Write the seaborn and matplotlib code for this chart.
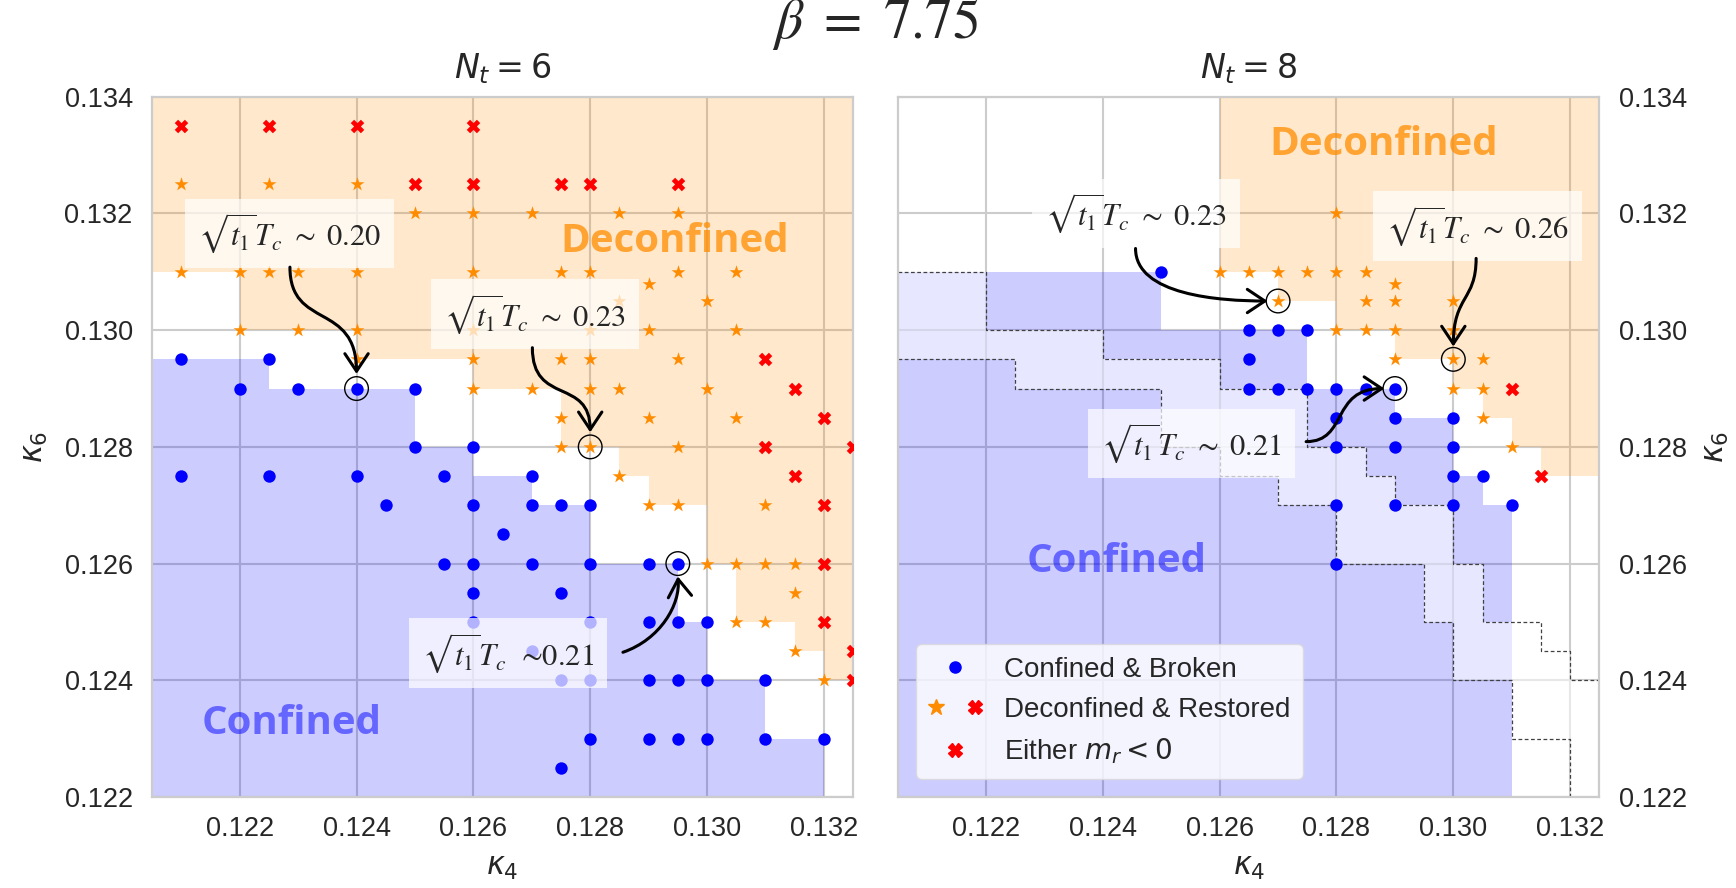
import numpy as np
import pandas as pd
import seaborn as sns
import matplotlib.pyplot as plt
from matplotlib.path import Path
from matplotlib.patches import FancyArrowPatch
from matplotlib.lines import Line2D
from matplotlib.legend_handler import HandlerTuple

# ---------------- data: (kappa4, kappa6) ----------------
# N_t = 6
nt6_confined = [
    (0.121, 0.1295), (0.1225, 0.1295),
    (0.122, 0.129), (0.123, 0.129), (0.124, 0.129), (0.125, 0.129),
    (0.125, 0.128), (0.126, 0.128),
    (0.121, 0.1275), (0.1225, 0.1275), (0.124, 0.1275), (0.1255, 0.1275), (0.127, 0.1275),
    (0.1245, 0.127), (0.126, 0.127), (0.127, 0.127), (0.1275, 0.127), (0.128, 0.127),
    (0.1265, 0.1265),
    (0.1255, 0.126), (0.126, 0.126), (0.127, 0.126), (0.128, 0.126), (0.129, 0.126), (0.1295, 0.126),
    (0.126, 0.1255), (0.1275, 0.1255),
    (0.126, 0.125), (0.128, 0.125), (0.129, 0.125), (0.1295, 0.125), (0.130, 0.125),
    (0.127, 0.1245),
    (0.1275, 0.124), (0.128, 0.124), (0.129, 0.124), (0.1295, 0.124), (0.130, 0.124), (0.131, 0.124),
    (0.128, 0.123), (0.129, 0.123), (0.1295, 0.123), (0.130, 0.123), (0.131, 0.123), (0.132, 0.123),
    (0.1275, 0.1225),
]
nt6_deconfined = [
    (0.121, 0.1325), (0.1225, 0.1325), (0.124, 0.1325),
    (0.125, 0.132), (0.126, 0.132), (0.127, 0.132), (0.1285, 0.132), (0.1295, 0.132),
    (0.121, 0.131), (0.122, 0.131), (0.1225, 0.131), (0.123, 0.131), (0.124, 0.131),
    (0.126, 0.131), (0.1275, 0.131), (0.128, 0.131), (0.1295, 0.131), (0.1305, 0.131),
    (0.129, 0.1308),
    (0.1285, 0.1305), (0.130, 0.1305),
    (0.122, 0.130), (0.123, 0.130), (0.124, 0.130), (0.126, 0.130), (0.128, 0.130),
    (0.129, 0.130), (0.1305, 0.130),
    (0.124, 0.1295), (0.126, 0.1295), (0.1275, 0.1295), (0.128, 0.1295), (0.1295, 0.1295),
    (0.126, 0.129), (0.127, 0.129), (0.128, 0.129), (0.1285, 0.129), (0.130, 0.129),
    (0.1275, 0.1285), (0.129, 0.1285), (0.1305, 0.1285),
    (0.1275, 0.128), (0.128, 0.128), (0.1295, 0.128),
    (0.1285, 0.1275),
    (0.129, 0.127), (0.1295, 0.127), (0.131, 0.127),
    (0.130, 0.126), (0.1305, 0.126), (0.131, 0.126), (0.1315, 0.126),
    (0.1315, 0.1255),
    (0.1305, 0.125), (0.131, 0.125),
    (0.1315, 0.1245),
    (0.132, 0.124),
]
nt6_negative = [
    (0.121, 0.1335), (0.1225, 0.1335), (0.124, 0.1335), (0.126, 0.1335),
    (0.125, 0.1325), (0.126, 0.1325), (0.1275, 0.1325), (0.128, 0.1325), (0.1295, 0.1325),
    (0.131, 0.1295), (0.1315, 0.129), (0.132, 0.1285), (0.131, 0.128), (0.1325, 0.128),
    (0.1315, 0.1275), (0.132, 0.127), (0.132, 0.126), (0.132, 0.125),
    (0.1325, 0.1245), (0.1325, 0.124),
]
nt6_marked = [(0.124, 0.129), (0.128, 0.128), (0.1295, 0.126)]

# N_t = 8
nt8_confined = [
    (0.125, 0.131),
    (0.1265, 0.130), (0.127, 0.130), (0.1275, 0.130),
    (0.1265, 0.1295),
    (0.1265, 0.129), (0.127, 0.129), (0.1275, 0.129), (0.128, 0.129), (0.1285, 0.129), (0.129, 0.129),
    (0.128, 0.1285), (0.129, 0.1285), (0.130, 0.1285),
    (0.128, 0.128), (0.129, 0.128), (0.130, 0.128),
    (0.130, 0.1275), (0.1305, 0.1275),
    (0.128, 0.127), (0.129, 0.127), (0.130, 0.127), (0.131, 0.127),
    (0.128, 0.126),
]
nt8_deconfined = [
    (0.128, 0.132),
    (0.126, 0.131), (0.1265, 0.131), (0.127, 0.131), (0.1275, 0.131), (0.128, 0.131), (0.1285, 0.131),
    (0.129, 0.1308),
    (0.127, 0.1305), (0.1285, 0.1305), (0.129, 0.1305), (0.130, 0.1305),
    (0.128, 0.130), (0.1285, 0.130), (0.129, 0.130), (0.130, 0.130),
    (0.129, 0.1295), (0.130, 0.1295), (0.1305, 0.1295),
    (0.130, 0.129), (0.1305, 0.129),
    (0.1305, 0.1285),
    (0.131, 0.128),
]
nt8_negative = [(0.131, 0.129), (0.1315, 0.1275)]
nt8_marked = [(0.127, 0.1305), (0.130, 0.1295), (0.129, 0.129)]

# phase boundaries (step edges along kappa4, level in kappa6)
nt6_dec_edges = [0.1205, 0.122, 0.124, 0.126, 0.1275, 0.1285, 0.129, 0.130, 0.1305, 0.1315, 0.132, 0.1325]
nt6_dec_low = [0.131, 0.130, 0.1295, 0.129, 0.128, 0.1275, 0.127, 0.126, 0.125, 0.1245, 0.124]
nt6_conf_edges = [0.1205, 0.1225, 0.125, 0.126, 0.127, 0.128, 0.1295, 0.130, 0.131, 0.132, 0.1325]
nt6_conf_top = [0.1295, 0.129, 0.128, 0.1275, 0.127, 0.126, 0.125, 0.124, 0.123, 0.122]

nt8_dec_edges = [0.1205, 0.126, 0.127, 0.128, 0.129, 0.130, 0.1305, 0.131, 0.1315, 0.1325]
nt8_dec_low = [0.134, 0.131, 0.1305, 0.130, 0.1295, 0.129, 0.1285, 0.128, 0.1275]
nt8_conf_edges = [0.1205, 0.125, 0.1275, 0.129, 0.130, 0.1305, 0.131, 0.1325]
nt8_conf_top = [0.131, 0.130, 0.129, 0.1285, 0.1275, 0.127, 0.122]

x_ticks = [0.122, 0.124, 0.126, 0.128, 0.130, 0.132]
y_ticks = [0.122, 0.124, 0.126, 0.128, 0.130, 0.132, 0.134]

# annotations: (text, text position, bezier arrow points)
nt6_notes = [
    (r"$\sqrt{t_1}T_c\ \sim\ \mathrm{0.20}$", (0.12285, 0.13166),
     [(0.12286, 0.13108), (0.12286, 0.1300), (0.1240, 0.1305), (0.1240, 0.12925)]),
    (r"$\sqrt{t_1}T_c\ \sim\ \mathrm{0.23}$", (0.12705, 0.13028),
     [(0.12701, 0.1297), (0.12701, 0.1287), (0.1280, 0.1292), (0.1280, 0.12825)]),
    (r"$\sqrt{t_1}T_c\ \ $∼0.21", (0.12659, 0.12447),
     [(0.12856, 0.12448), (0.1292, 0.12470), (0.12955, 0.1253), (0.1295, 0.12578)]),
]
nt8_notes = [
    (r"$\sqrt{t_1}T_c\ \sim\ \mathrm{0.23}$", (0.12457, 0.1320),
     [(0.12456, 0.1314), (0.12456, 0.1306), (0.1260, 0.1305), (0.12682, 0.1305)]),
    (r"$\sqrt{t_1}T_c\ \sim\ \mathrm{0.26}$", (0.13042, 0.13179),
     [(0.13039, 0.13123), (0.13039, 0.1305), (0.1300, 0.1306), (0.1300, 0.12972)]),
    (r"$\sqrt{t_1}T_c\ \sim\ \mathrm{0.21}$", (0.12552, 0.12806),
     [(0.12748, 0.12809), (0.1282, 0.12809), (0.1279, 0.1290), (0.12882, 0.1290)]),
]

XLIM = (0.1205, 0.1325)
YLIM = (0.122, 0.134)

sns.set_theme(style="whitegrid")
plt.rcParams['font.family'] = ['Liberation Sans', 'DejaVu Sans']
plt.rcParams['grid.color'] = '0.8'
plt.rcParams['grid.linewidth'] = 1.5
plt.rcParams['axes.edgecolor'] = '0.8'
plt.rcParams['axes.linewidth'] = 1.6


def to_df(points):
    return pd.DataFrame(points, columns=["k4", "k6"])


def ext(vals):
    return list(vals) + [vals[-1]]


def step_at(edges, vals, x):
    i = np.searchsorted(edges, x, side='right') - 1
    i = np.clip(i, 0, len(vals) - 1)
    return np.asarray(vals)[i]


def draw_points(ax, conf, dec, neg, marked):
    sns.scatterplot(data=to_df(conf), x="k4", y="k6", ax=ax, color="blue", marker="o",
                    s=80, linewidth=0, legend=False, zorder=3)
    sns.scatterplot(data=to_df(dec), x="k4", y="k6", ax=ax, color="darkorange", marker="*",
                    s=110, linewidth=0, legend=False, zorder=3)
    sns.scatterplot(data=to_df(neg), x="k4", y="k6", ax=ax, color="red", marker="X",
                    s=95, linewidth=0, legend=False, zorder=3)
    m = to_df(marked)
    ax.scatter(m["k4"], m["k6"], s=290, facecolors="none", edgecolors="black",
               linewidths=1.0, zorder=4)


def draw_notes(ax, notes):
    for text, pos, pts in notes:
        ax.text(pos[0], pos[1], text, ha="center", va="center", fontsize=22,
                family="STIXGeneral", math_fontfamily="stix", zorder=6,
                bbox=dict(boxstyle="square,pad=0.42", fc="white", ec="none", alpha=0.7))
        path = Path(pts, [Path.MOVETO, Path.CURVE4, Path.CURVE4, Path.CURVE4])
        arr = FancyArrowPatch(path=path, arrowstyle="->,head_length=0.45,head_width=0.3",
                              mutation_scale=28, lw=2.2, color="black", zorder=7)
        ax.add_patch(arr)


def style_axes(ax):
    ax.set_xlim(*XLIM)
    ax.set_ylim(*YLIM)
    ax.set_xticks(x_ticks)
    ax.set_yticks(y_ticks)
    ax.set_xticklabels([f"{v:.3f}" for v in x_ticks])
    ax.set_yticklabels([f"{v:.3f}" for v in y_ticks])
    ax.tick_params(length=0, pad=14, labelsize=19.5, colors="0.15")
    ax.set_xlabel(r"$\kappa_4$", fontsize=22, labelpad=7, color="0.15")
    ax.set_ylabel(r"$\kappa_6$", fontsize=22, labelpad=10, color="0.15")
    ax.set_facecolor("white")


fig, (ax1, ax2) = plt.subplots(1, 2, figsize=(17.36, 8.88), dpi=100)
fig.subplots_adjust(left=0.0876, right=0.9213, bottom=0.1025, top=0.891, wspace=0.0646)

# ---- N_t = 6 ----
ax1.fill_between(nt6_dec_edges, ext(nt6_dec_low), YLIM[1], step="post",
                 color="darkorange", alpha=0.2, lw=0, zorder=1)
ax1.fill_between(nt6_conf_edges, ext(nt6_conf_top), YLIM[0], step="post",
                 color="blue", alpha=0.2, lw=0, zorder=1)
draw_points(ax1, nt6_confined, nt6_deconfined, nt6_negative, nt6_marked)
ax1.text(0.12945, 0.13152, "Deconfined", fontsize=29, fontweight="bold", family="Open Sans",
         color="darkorange", alpha=0.75, ha="center", va="center", zorder=5)
ax1.text(0.12289, 0.12326, "Confined", fontsize=29, fontweight="bold", family="Open Sans",
         color="blue", alpha=0.5, ha="center", va="center", zorder=5)
draw_notes(ax1, nt6_notes)
style_axes(ax1)
ax1.set_title(r"$N_t = 6$", fontsize=24, pad=13, color="0.15")

# ---- N_t = 8 ----
ax2.fill_between(nt8_dec_edges, ext(nt8_dec_low), YLIM[1], step="post",
                 color="darkorange", alpha=0.2, lw=0, zorder=1)
ax2.fill_between(nt8_conf_edges, ext(nt8_conf_top), YLIM[0], step="post",
                 color="blue", alpha=0.2, lw=0, zorder=1)
# N_t = 6 transition band carried over
grid = np.unique(np.concatenate([nt6_dec_edges, nt6_conf_edges]))
upper = step_at(nt6_dec_edges, nt6_dec_low, grid)
lower = step_at(nt6_conf_edges, nt6_conf_top, grid)
ax2.fill_between(grid, lower, upper, step="post", color="white", alpha=0.55, lw=0, zorder=1.2)
ax2.plot(nt6_dec_edges, ext(nt6_dec_low), drawstyle="steps-post", ls=(0, (3, 2)),
         color="0.25", lw=0.9, zorder=1.5)
ax2.plot(nt6_conf_edges, ext(nt6_conf_top), drawstyle="steps-post", ls=(0, (3, 2)),
         color="0.25", lw=0.9, zorder=1.5)
draw_points(ax2, nt8_confined, nt8_deconfined, nt8_negative, nt8_marked)
ax2.text(0.12881, 0.13319, "Deconfined", fontsize=29, fontweight="bold", family="Open Sans",
         color="darkorange", alpha=0.75, ha="center", va="center", zorder=5)
ax2.text(0.12424, 0.12604, "Confined", fontsize=29, fontweight="bold", family="Open Sans",
         color="blue", alpha=0.5, ha="center", va="center", zorder=5)
draw_notes(ax2, nt8_notes)
style_axes(ax2)
ax2.yaxis.tick_right()
ax2.yaxis.set_label_position("right")
ax2.set_title(r"$N_t = 8$", fontsize=24, pad=13, color="0.15")

handles = [
    Line2D([], [], ls="", marker="o", color="blue", markersize=8),
    (Line2D([], [], ls="", marker="*", color="darkorange", markersize=12),
     Line2D([], [], ls="", marker="X", color="red", markersize=10)),
    Line2D([], [], ls="", marker="X", color="red", markersize=10),
]
labels = ["Confined & Broken", "Deconfined & Restored", r"Either $m_r < 0$"]
leg = ax2.legend(handles, labels, handler_map={tuple: HandlerTuple(ndivide=None, pad=0.9)},
                 loc="lower left", fontsize=20, frameon=True, facecolor="white",
                 framealpha=0.8, edgecolor="0.85", borderpad=0.45, labelspacing=0.5,
                 handlelength=1.9, handletextpad=0.8, borderaxespad=0.65)
leg.set_zorder(8)

fig.text(0.504, 0.972, r"$\beta\ =\ \mathrm{7.75}$", fontsize=40, math_fontfamily="stix",
         ha="center", va="center")

fig.savefig("out.png", dpi=100)
